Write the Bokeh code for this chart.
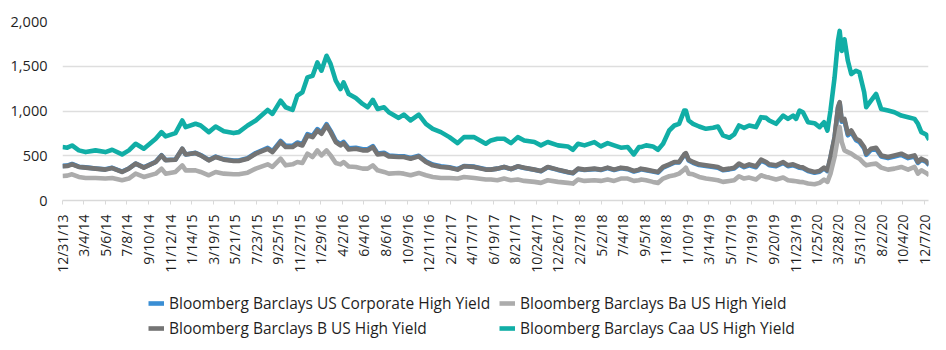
import math
from datetime import datetime
from bokeh.plotting import figure
from bokeh.layouts import column
from bokeh.models import Range1d, FixedTicker, Legend, LegendItem, NumeralTickFormatter, ColumnDataSource
from bokeh.embed import file_html
from bokeh.resources import INLINE

START = "12/31/13"

# day offsets (from 12/31/13) of the sampled points
days = [0, 14, 28, 48, 68, 97, 126, 146, 175, 195,
        215, 239, 274, 291, 303, 332, 352, 362, 391, 406,
        430, 450, 474, 503, 518, 544, 568, 603, 617, 641,
        656, 676, 690, 705, 720, 735, 749, 761, 776, 788,
        803, 817, 826, 841, 862, 882, 897, 912, 926, 945,
        959, 988, 1003, 1023, 1047, 1068, 1088, 1112, 1137, 1161,
        1180, 1210, 1244, 1259, 1278, 1298, 1318, 1338, 1357, 1387,
        1406, 1426, 1456, 1485, 1500, 1515, 1534, 1563, 1582, 1602,
        1621, 1641, 1661, 1679, 1694, 1700, 1715, 1735, 1750, 1765,
        1783, 1798, 1812, 1827, 1832, 1840, 1853, 1871, 1891, 1912,
        1926, 1941, 1960, 1974, 1988, 2003, 2018, 2038, 2053, 2068,
        2077, 2097, 2118, 2132, 2147, 2156, 2166, 2176, 2191, 2210,
        2225, 2238, 2248, 2257, 2269, 2279, 2284, 2290, 2298, 2308,
        2318, 2332, 2342, 2356, 2362, 2376, 2391, 2406, 2426, 2445,
        2465, 2485, 2504, 2514, 2524, 2538, 2547]

corp_hy = [387, 390, 408, 378, 370, 358, 348, 365, 322, 358,
           412, 370, 432, 505, 452, 458, 575, 515, 532, 508,
           452, 490, 460, 446, 446, 472, 530, 588, 552, 665,
           610, 610, 648, 628, 742, 722, 798, 760, 852, 778,
           668, 628, 655, 582, 590, 572, 572, 608, 526, 534,
           503, 494, 494, 475, 500, 438, 402, 382, 372, 350,
           386, 378, 348, 347, 356, 374, 351, 380, 364, 343,
           328, 372, 342, 316, 305, 352, 341, 351, 340, 362,
           340, 360, 350, 324, 338, 350, 338, 323, 312, 368,
           398, 424, 425, 508, 522, 448, 422, 396, 385, 374,
           367, 338, 348, 358, 402, 373, 394, 372, 446, 420,
           395, 384, 420, 384, 394, 381, 366, 361, 329, 311,
           322, 358, 329, 476, 698, 1030, 1087, 880, 895, 728,
           765, 674, 655, 582, 510, 565, 576, 492, 474, 492,
           510, 474, 491, 420, 455, 430, 394]

b_hy = [382, 385, 404, 375, 367, 356, 345, 363, 319, 356,
        412, 367, 430, 504, 449, 456, 578, 515, 530, 504,
        449, 486, 456, 441, 441, 467, 523, 578, 541, 653,
        597, 597, 634, 615, 727, 708, 782, 745, 838, 764,
        653, 615, 641, 570, 578, 560, 560, 597, 515, 523,
        493, 486, 486, 467, 493, 430, 393, 375, 367, 345,
        382, 375, 345, 345, 356, 375, 352, 382, 367, 345,
        330, 375, 345, 319, 308, 356, 345, 356, 345, 367,
        345, 367, 356, 330, 345, 356, 345, 330, 319, 375,
        404, 430, 430, 515, 530, 456, 430, 404, 393, 382,
        375, 345, 356, 367, 412, 382, 404, 382, 456, 430,
        404, 393, 430, 393, 404, 390, 375, 370, 337, 319,
        330, 367, 337, 486, 708, 1042, 1098, 894, 912, 745,
        782, 690, 671, 597, 523, 578, 590, 504, 486, 504,
        523, 486, 504, 430, 467, 441, 404]

ba_hy = [274, 278, 293, 263, 252, 252, 245, 252, 226, 245,
         300, 263, 300, 356, 300, 319, 393, 337, 337, 319,
         282, 319, 300, 293, 293, 311, 356, 404, 375, 467,
         393, 404, 430, 419, 523, 486, 560, 504, 560, 504,
         419, 404, 430, 380, 375, 356, 356, 393, 337, 319,
         300, 308, 300, 282, 308, 282, 263, 252, 252, 245,
         263, 252, 234, 234, 226, 245, 226, 234, 219, 208,
         197, 226, 208, 197, 189, 234, 219, 226, 219, 234,
         219, 245, 245, 219, 226, 234, 226, 208, 197, 245,
         271, 282, 300, 345, 367, 300, 293, 263, 245, 234,
         226, 208, 219, 226, 271, 245, 256, 234, 282, 263,
         256, 234, 256, 226, 219, 215, 208, 205, 189, 182,
         197, 234, 208, 300, 486, 708, 820, 653, 560, 541,
         523, 486, 467, 412, 393, 404, 412, 367, 345, 356,
         375, 345, 375, 300, 337, 308, 282]

caa_hy = [597, 590, 615, 560, 541, 560, 541, 567, 515, 560,
          634, 578, 690, 764, 716, 753, 894, 820, 857, 838,
          764, 827, 775, 753, 764, 838, 894, 1012, 968, 1116,
          1042, 1012, 1172, 1209, 1376, 1394, 1543, 1450, 1617, 1524,
          1339, 1246, 1320, 1190, 1146, 1079, 1042, 1124, 1023, 1042,
          986, 923, 960, 894, 960, 857, 801, 764, 708, 641,
          708, 708, 634, 671, 690, 690, 641, 708, 671, 653,
          616, 653, 616, 604, 567, 634, 616, 653, 604, 641,
          616, 590, 597, 515, 597, 597, 616, 604, 567, 634,
          782, 838, 857, 1005, 1005, 894, 857, 827, 801, 812,
          827, 727, 701, 738, 838, 812, 838, 820, 931, 923,
          894, 857, 949, 912, 949, 912, 1005, 986, 875, 864,
          820, 875, 782, 1005, 1376, 1784, 1895, 1672, 1802, 1561,
          1413, 1450, 1431, 1209, 1042, 1116, 1190, 1023, 1005, 986,
          949, 931, 912, 857, 764, 738, 679]

tick_labels = ["12/31/13", "3/4/14", "5/6/14", "7/8/14", "9/10/14", "11/12/14",
               "1/14/15", "3/19/15", "5/21/15", "7/23/15", "9/25/15", "11/27/15",
               "1/29/16", "4/2/16", "6/4/16", "8/6/16", "10/9/16", "12/11/16",
               "2/12/17", "4/17/17", "6/19/17", "8/21/17", "10/24/17", "12/26/17",
               "2/27/18", "5/2/18", "7/4/18", "9/5/18", "11/8/18", "1/10/19",
               "3/14/19", "5/17/19", "7/19/19", "9/20/19", "11/23/19", "1/25/20",
               "3/28/20", "5/31/20", "8/2/20", "10/4/20", "12/7/20"]

y_ticks = [0, 500, 1000, 1500, 2000]

series_names = ["Bloomberg Barclays US Corporate High Yield",
                "Bloomberg Barclays B US High Yield",
                "Bloomberg Barclays Ba US High Yield",
                "Bloomberg Barclays Caa US High Yield"]
series_colors = ["#3a8ed4", "#747474", "#acacac", "#11aea6"]

assert len(days) == len(corp_hy) == len(b_hy) == len(ba_hy) == len(caa_hy)

start = datetime.strptime(START, "%m/%d/%y")
tick_days = [(datetime.strptime(t, "%m/%d/%y") - start).days for t in tick_labels]

FONT = "Open Sans"
TXT = "#1f1f1f"
LW = 4.6

src = ColumnDataSource(dict(x=days, corp=corp_hy, b=b_hy, ba=ba_hy, caa=caa_hy))
cols = ["corp", "b", "ba", "caa"]

p = figure(width=946, height=290, output_backend="svg", toolbar_location=None,
           x_range=Range1d(0, 2545), y_range=Range1d(0, 2000),
           min_border_left=62, min_border_right=18, min_border_top=21, min_border_bottom=90)
p.outline_line_color = None
p.border_fill_color = "white"

for col, color in zip(cols, series_colors):
    p.line("x", col, source=src, line_color=color, line_width=LW, line_join="round")

p.xgrid.visible = False
p.ygrid.grid_line_color = "#dedede"
p.ygrid.grid_line_width = 1.5
p.ygrid.ticker = FixedTicker(ticks=y_ticks)

ya = p.yaxis[0]
ya.ticker = FixedTicker(ticks=y_ticks)
ya.formatter = NumeralTickFormatter(format="0,0")
ya.axis_line_color = None
ya.major_tick_line_color = None
ya.minor_tick_line_color = None
ya.major_label_text_font = FONT
ya.major_label_text_font_size = "14.5px"
ya.major_label_text_color = TXT
ya.major_label_standoff = 9

xa = p.xaxis[0]
xa.ticker = FixedTicker(ticks=tick_days)
xa.major_label_overrides = {d: l for d, l in zip(tick_days, tick_labels)}
xa.major_label_orientation = math.pi / 2
xa.axis_line_color = "#d9d9d9"
xa.axis_line_width = 1.5
xa.major_tick_line_color = "#d9d9d9"
xa.major_tick_out = 4
xa.major_tick_in = 0
xa.minor_tick_line_color = None
xa.major_label_text_font = FONT
xa.major_label_text_font_size = "14px"
xa.major_label_text_color = TXT
xa.major_label_standoff = 10

# legend strip below the chart (series drawn off-range, only their legend swatches show)
lg = figure(width=946, height=60, output_backend="svg", toolbar_location=None,
            x_range=Range1d(-3000, -2900), y_range=Range1d(0, 2000),
            min_border=0, min_border_left=0, min_border_right=0, min_border_top=0, min_border_bottom=0)
lg.axis.visible = False
lg.grid.visible = False
lg.outline_line_color = None
lg.border_fill_color = "white"
rs = []
for col, color in zip(cols, series_colors):
    rs.append(lg.line("x", col, source=src, line_color=color, line_width=LW))

items = [LegendItem(label=n, renderers=[r]) for n, r in zip(series_names, rs)]
legend = Legend(items=items, ncols=2, location=(86, 11), padding=0, margin=0,
                spacing=3, label_height=20, label_width=327, glyph_width=16, glyph_height=20,
                label_standoff=5, border_line_color=None, background_fill_alpha=0,
                label_text_font=FONT, label_text_font_size="15.5px", label_text_color=TXT)
lg.add_layout(legend, "center")

layout = column(p, lg, spacing=0)
open("out.html", "w").write(file_html(layout, INLINE))
